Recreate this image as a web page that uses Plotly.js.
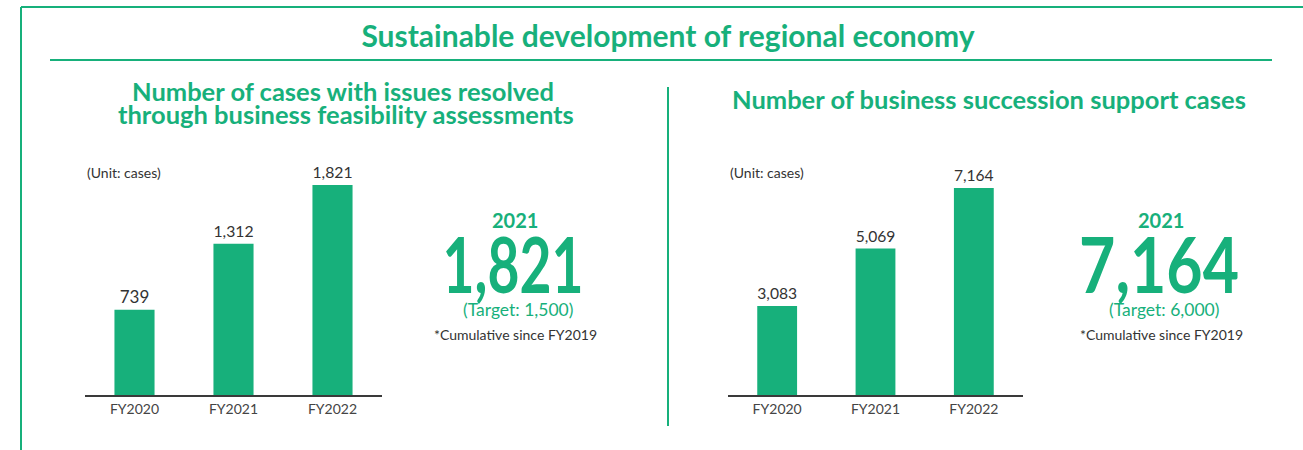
<!DOCTYPE html>
<html>
<head>
<meta charset="utf-8">
<script src="https://cdn.plot.ly/plotly-3.0.1.min.js"></script>
<style>
  html, body { margin: 0; padding: 0; background: #fff; }
  #chart { width: 1303px; height: 450px; }
</style>
</head>
<body>
<div id="chart"></div>
<script>
    // data
    var years = ['FY2020', 'FY2021', 'FY2022'];
    var feasibilityCases = [739, 1312, 1821];
    var successionCases = [3083, 5069, 7164];
    var feasibilityTarget = '1,500';
    var successionTarget = '6,000';

    var GREEN = '#17b07b';
    var W = 1303, H = 450;
    var BODY = 'Lato, "Noto Sans", sans-serif';

    function px(x) { return x / W; }
    function py(y) { return (H - y) / H; }

    // the big numbers use a condensed face in the original; squeeze them to this width
    var bigWidths = {};

    var trace1 = {
        x: years,
        y: feasibilityCases,
        type: 'bar',
        width: 0.405,
        marker: { color: GREEN },
        texttemplate: '%{y:,}',
        textposition: 'outside',
        textfont: { family: BODY, size: 17, color: '#333' },
        cliponaxis: false,
        hoverinfo: 'none',
        xaxis: 'x',
        yaxis: 'y',
    };

    var trace2 = {
        x: years,
        y: successionCases,
        type: 'bar',
        width: 0.405,
        marker: { color: GREEN },
        texttemplate: '%{y:,}',
        textposition: 'outside',
        textfont: { family: BODY, size: 17, color: '#333' },
        cliponaxis: false,
        hoverinfo: 'none',
        xaxis: 'x2',
        yaxis: 'y2',
    };

    var xbase = {
        type: 'category',
        range: [-0.5, 2.5],
        showline: true,
        linecolor: '#3a3a3a',
        linewidth: 2,
        showgrid: false,
        zeroline: false,
        ticks: '',
        tickfont: { family: BODY, size: 14, color: '#444' },
        fixedrange: true,
    };
    var ybase = {
        showgrid: false,
        zeroline: false,
        showline: false,
        showticklabels: false,
        fixedrange: true,
    };

    function big(x, year, value, target, width) {
        var label = value.toLocaleString('en-US');
        bigWidths[label] = width;
        return [
            { text: '<b>' + year + '</b>', x: px(x + 2), y: py(220), font: { family: BODY, size: 20, color: GREEN } },
            { text: label, x: px(x), y: py(263), font: { family: BODY, size: 76, weight: 'bold', color: GREEN } },
            { text: '(Target: ' + target + ')', x: px(x + 5), y: py(309), font: { family: BODY, size: 17.5, color: GREEN } },
            { text: '*Cumulative since FY2019', x: px(x + 2), y: py(334), font: { family: BODY, size: 14, color: '#333' } },
        ];
    }

    var annotations = [
        { text: '<b>Number of cases with issues resolved</b>', x: px(343), y: py(91), font: { family: BODY, size: 25.5, color: GREEN } },
        { text: '<b>through business feasibility assessments</b>', x: px(346), y: py(114), font: { family: BODY, size: 25.5, color: GREEN } },
        { text: '<b>Number of business succession support cases</b>', x: px(989), y: py(99), font: { family: BODY, size: 25.5, color: GREEN } },
        { text: '(Unit: cases)', x: px(85), y: py(172), xanchor: 'left', font: { family: BODY, size: 14, color: '#333' } },
        { text: '(Unit: cases)', x: px(728), y: py(172), xanchor: 'left', font: { family: BODY, size: 14, color: '#333' } },
    ].concat(big(513, '2021', feasibilityCases[2], feasibilityTarget, 141))
     .concat(big(1159, '2021', successionCases[2], successionTarget, 160));

    annotations.forEach(function (a) {
        a.xref = 'paper';
        a.yref = 'paper';
        a.showarrow = false;
        a.xanchor = a.xanchor || 'center';
        a.yanchor = 'middle';
    });

    var line = { color: GREEN, width: 2 };
    var shapes = [
        { type: 'line', x0: px(21), x1: px(21), y0: py(7), y1: 0, line: line },
        { type: 'line', x0: px(21), x1: 1, y0: py(7), y1: py(7), line: line },
        { type: 'line', x0: px(50), x1: px(1272), y0: py(60), y1: py(60), line: line },
        { type: 'line', x0: px(668), x1: px(668), y0: py(87), y1: py(426), line: line },
    ];
    shapes.forEach(function (s) { s.xref = 'paper'; s.yref = 'paper'; });

    var layout = {
        width: W,
        height: H,
        margin: { l: 0, r: 0, t: 0, b: 0 },
        paper_bgcolor: '#fff',
        plot_bgcolor: 'rgba(0,0,0,0)',
        showlegend: false,
        title: {
            text: '<b>Sustainable development of regional economy</b>',
            x: px(668),
            xanchor: 'center',
            y: py(36),
            yanchor: 'middle',
            font: { family: BODY, size: 30, color: GREEN },
        },
        xaxis: Object.assign({}, xbase, { domain: [px(85), px(382)], anchor: 'y' }),
        yaxis: Object.assign({}, ybase, { domain: [py(395), py(185)], range: [0, Math.max.apply(null, feasibilityCases)], anchor: 'x' }),
        xaxis2: Object.assign({}, xbase, { domain: [px(728), px(1023)], anchor: 'y2' }),
        yaxis2: Object.assign({}, ybase, { domain: [py(395), py(188)], range: [0, Math.max.apply(null, successionCases)], anchor: 'x2' }),
        annotations: annotations,
        shapes: shapes,
    };

    Plotly.newPlot(document.getElementById('chart'), [trace1, trace2], layout, { displayModeBar: false, staticPlot: true })
        .then(function (gd) {
            gd.querySelectorAll('.annotation-text').forEach(function (t) {
                var w = bigWidths[t.textContent];
                if (!w) return;
                var b = t.getBBox();
                var cx = b.x + b.width / 2;
                var s = w / b.width;
                var prev = t.getAttribute('transform') || '';
                t.setAttribute('transform', prev + ' translate(' + cx + ',0) scale(' + s + ',1) translate(' + (-cx) + ',0)');
            });
        });
</script>
</body>
</html>
